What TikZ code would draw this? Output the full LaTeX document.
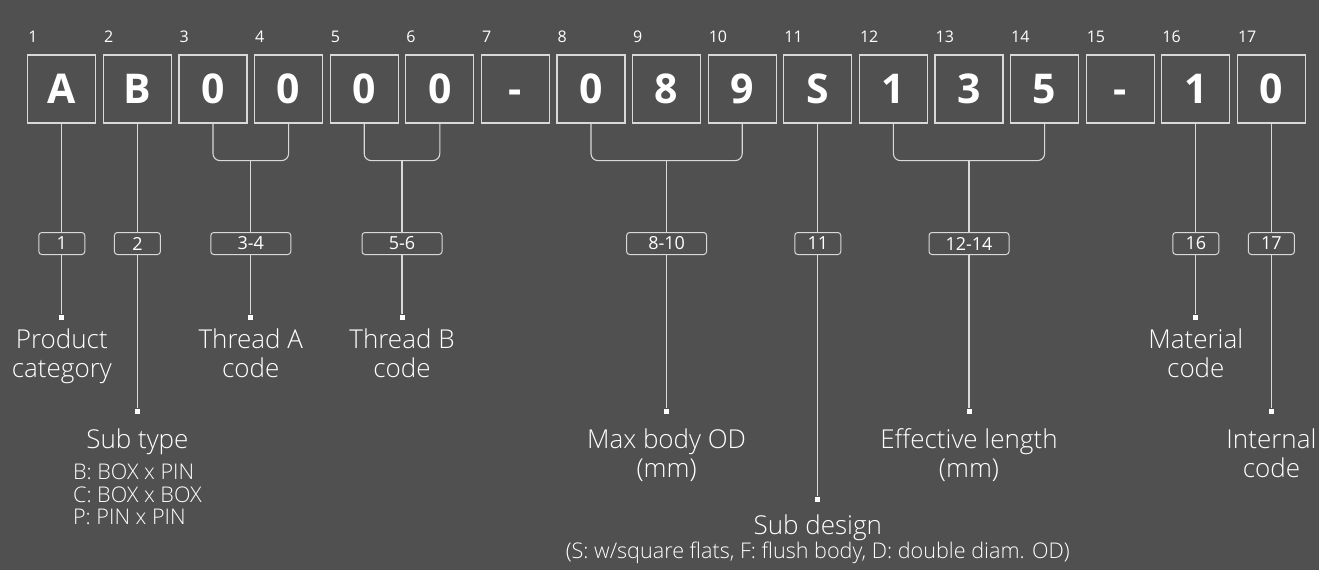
\documentclass[tikz,border=0pt]{standalone}
\usepackage{fontspec}
\setmainfont{Open Sans}
\newfontfamily\thinfont{Open Sans Light}
\usetikzlibrary{positioning,calc}
\definecolor{bggray}{HTML}{505050}
\definecolor{lgray}{HTML}{D9D9D9}

\begin{document}
\begin{tikzpicture}[x=1pt, y=-1pt,
    charbox/.style={draw=lgray, line width=1.2pt, minimum size=68pt,
        inner sep=0pt, text=white, font=\fontsize{41}{41}\selectfont\bfseries},
    idx/.style={text=white, font=\fontsize{16}{16}\selectfont,
        inner sep=0pt, anchor=base west},
    tag/.style={draw=lgray, line width=1pt, rounded corners=3pt, fill=bggray,
        minimum height=22pt, minimum width=46pt, inner sep=0pt,
        text=white, font=\fontsize{18}{18}\selectfont},
    wide/.style={minimum width=80pt},
    conn/.style={draw=lgray, line width=1.1pt},
    dot/.style={fill=white, minimum size=5pt, inner sep=0pt},
    desc/.style={text=white, font=\thinfont\fontsize{26}{29}\selectfont,
        align=center, inner sep=0pt},
    note/.style={text=white, font=\thinfont\fontsize{21.6}{22.5}\selectfont,
        align=left, inner sep=0pt},
]
\useasboundingbox[fill=bggray] (0,0) rectangle (1319,570);

% Code characters with their position numbers
\foreach \ch [count=\i] in {A,B,0,0,0,0,-,0,8,9,S,1,3,5,-,1,0} {
    \node[charbox] (c\i) at ({61.8+(\i-1)*75.6}, 89) {\vphantom{0}\ch};
    \node[idx] (n\i) at ($(c\i.north west)+(1,-11.5)$) {\i};
}

% Grouped positions
\foreach \a/\b/\g/\lbl/\ey in {3/4/34/3-4/317, 5/6/56/5-6/317,
        8/10/810/8-10/411, 12/14/1214/12-14/411} {
    \coordinate (b\g) at ($(c\a.south)!0.5!(c\b.south)+(0,37)$);
    \draw[conn, rounded corners=7pt] (c\a.south) |- (b\g) -| (c\b.south);
    \node[tag, wide] (t\g) at (b\g |- 0,243.5) {\lbl};
    \node[dot] (e\g) at (b\g |- 0,\ey) {};
    \draw[conn] (b\g) -- (t\g) -- (e\g);
}

% Single positions
\foreach \i/\ey in {1/317, 2/411, 11/499, 16/317, 17/411} {
    \node[tag] (t\i) at (c\i.south |- 0,243.5) {\i};
    \node[dot] (e\i) at (c\i.south |- 0,\ey) {};
    \draw[conn] (c\i) -- (t\i) -- (e\i);
}

% Descriptions
\node[desc, below=9pt of e1] (d1) {Product\\category};
\node[desc, below=15pt of e2] (d2) {Sub type};
\node[note, below=9pt of d2] (d2n) {B: BOX x PIN\\C: BOX x BOX\\P: PIN x PIN};
\node[desc, below=9pt of e34] (d34) {Thread A\\code};
\node[desc, below=9pt of e56] (d56) {Thread B\\code};
\node[desc, below=15pt of e810] (d810) {Max body OD\\(mm)};
\node[desc, below=13pt of e11] (d11) {Sub design};
\node[note, align=center, below=1pt of d11] (d11n)
    {(S: w/square flats, F: flush body, D: double diam. OD)};
\node[desc, below=15pt of e1214] (d1214) {Effective length\\(mm)};
\node[desc, below=9pt of e16] (d16) {Material\\code};
\node[desc, below=15pt of e17] (d17) {Internal\\code};

\end{tikzpicture}
\end{document}
